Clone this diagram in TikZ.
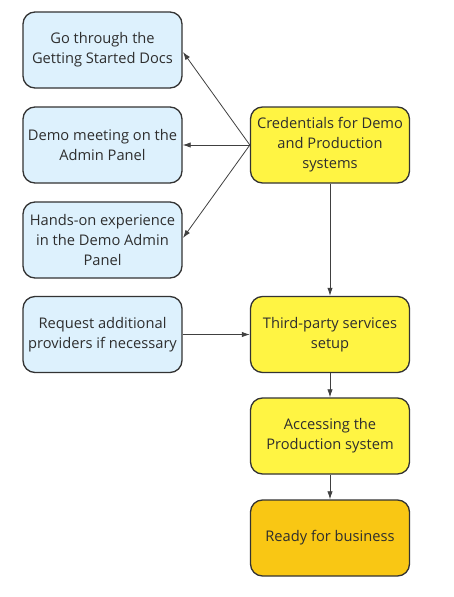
\documentclass[tikz,border=0pt]{standalone}
\usepackage{fontspec}
\setmainfont{Open Sans}
\usetikzlibrary{arrows.meta}
\definecolor{lblue}{HTML}{DDF1FD}
\definecolor{yel}{HTML}{FFF443}
\definecolor{gold}{HTML}{F9C714}
\definecolor{edge}{HTML}{333333}
\begin{document}
\begin{tikzpicture}[x=0.75pt,y=-0.75pt,
  box/.style={draw=edge,line width=1pt,rounded corners=9pt,minimum width=159*0.75pt,minimum height=76*0.75pt,align=center,font=\fontsize{11}{15}\selectfont,text=black!82,inner sep=2pt},
  bluebox/.style={box,fill=lblue},
  yelbox/.style={box,fill=yel},
  goldbox/.style={box,fill=gold},
  arr/.style={draw=black!75,line width=0.6pt,-{Latex[length=6pt,width=4pt]}}]
\useasboundingbox (0,0) rectangle (454,597);
\node[bluebox] (docs) at (102.5,50) {Go through the\\Getting Started Docs};
\node[bluebox] (meet) at (102.5,145) {Demo meeting on the\\Admin Panel};
\node[bluebox] (hands) at (102.5,240) {Hands-on experience\\in the Demo Admin\\Panel};
\node[bluebox] (req) at (102.5,334.5) {Request additional\\providers if necessary};
\node[yelbox] (cred) at (330,145) {Credentials for Demo\\and Production\\systems};
\node[yelbox] (third) at (330,334.5) {Third-party services\\setup};
\node[yelbox] (acc) at (330,436) {Accessing the\\Production system};
\node[goldbox] (ready) at (330,538) {Ready for business};
\coordinate (d1) at (183,52);
\coordinate (d3) at (183,238);
\draw[arr] (cred.west) -- (d1);
\draw[arr] (cred.west) -- (meet.east);
\draw[arr] (cred.west) -- (d3);
\draw[arr] (req.east) -- (third.west);
\draw[arr] (cred.south) -- (third.north);
\draw[arr] (third.south) -- (acc.north);
\draw[arr] (acc.south) -- (ready.north);
\end{tikzpicture}
\end{document}
